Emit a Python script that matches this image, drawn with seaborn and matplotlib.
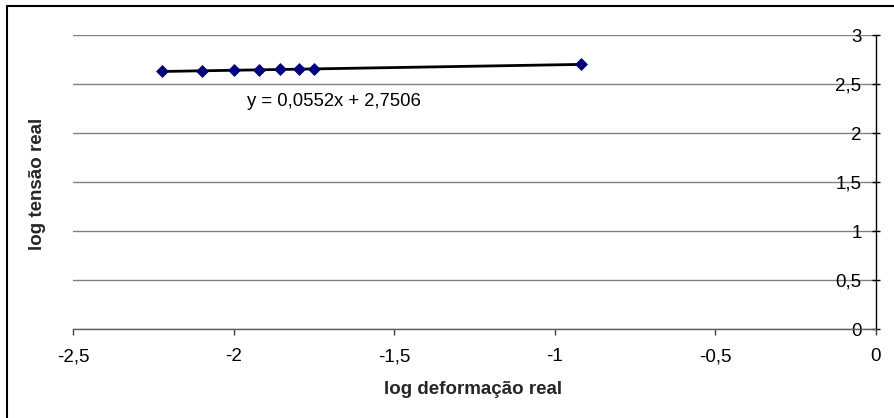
import matplotlib
matplotlib.use("Agg")
import matplotlib.pyplot as plt
import matplotlib.ticker as mticker
from matplotlib.lines import Line2D
import seaborn as sns
import pandas as pd
import numpy as np

# Measured points (log true strain vs log true stress)
log_deformacao = [-2.223, -2.098, -1.999, -1.921, -1.855, -1.796, -1.749, -0.919]
log_tensao = [2.628, 2.634, 2.640, 2.644, 2.648, 2.651, 2.654, 2.700]

# Linear trendline coefficients
trend_slope = 0.0552
trend_intercept = 2.7506

x_ticks = [-2.5, -2.0, -1.5, -1.0, -0.5, 0.0]
y_ticks = [0.0, 0.5, 1.0, 1.5, 2.0, 2.5, 3.0]

sns.set_theme(style="white")
plt.rcParams["font.family"] = ["Liberation Sans", "DejaVu Sans"]

W, H = 894, 418
fig = plt.figure(figsize=(W / 100, H / 100), dpi=100)
fig.patch.set_facecolor("white")

# Chart area frame: only its left and top edges fall inside the canvas
fx, fy = 7.3 / W, 1 - 6 / H
fig.lines.append(Line2D([fx, fx], [0, fy], transform=fig.transFigure,
                        color="black", linewidth=1.5))
fig.lines.append(Line2D([fx, 1], [fy, fy], transform=fig.transFigure,
                        color="black", linewidth=1.5))

left, right = 73.3 / W, 875.5 / W
bottom, top = 1 - 329 / H, 1 - 35 / H
ax = fig.add_axes([left, bottom, right - left, top - bottom])
ax.set_facecolor("none")

df = pd.DataFrame({"x": log_deformacao, "y": log_tensao})

# Trendline over the data range
xs = np.array([min(log_deformacao), max(log_deformacao)])
trend = pd.DataFrame({"x": xs, "y": trend_slope * xs + trend_intercept})
sns.lineplot(data=trend, x="x", y="y", ax=ax, color="black", linewidth=2.0,
             zorder=3)
sns.scatterplot(data=df, x="x", y="y", ax=ax, marker="D", s=36,
                color="#000080", edgecolor="#000080", linewidth=0.6, zorder=4)

ax.set_xlim(-2.5, 0)
ax.set_ylim(0, 3)
ax.set_xticks(x_ticks)
ax.set_yticks(y_ticks)

fmt = mticker.FuncFormatter(lambda v, p: f"{v:g}".replace(".", ","))
ax.xaxis.set_major_formatter(fmt)
ax.yaxis.set_major_formatter(fmt)

# Horizontal gridlines
ax.yaxis.grid(True, color="#808080", linewidth=1.0)
ax.xaxis.grid(False)
ax.set_axisbelow(True)

for side in ("left", "top"):
    ax.spines[side].set_visible(False)
ax.spines["right"].set_visible(True)
ax.spines["right"].set_color("black")
ax.spines["right"].set_linewidth(1.0)
ax.spines["bottom"].set_color("#606060")
ax.spines["bottom"].set_linewidth(1.0)

ax.xaxis.set_ticks_position("bottom")
ax.tick_params(axis="x", direction="out", length=4, width=1, color="#404040",
               pad=10, labelsize=13.5, labelcolor="black")
ax.yaxis.set_ticks_position("right")
ax.tick_params(axis="y", direction="inout", length=6, width=1, color="black",
               pad=-13, labelsize=13.5, labelcolor="black",
               labelright=True, labelleft=False)
for lbl in ax.get_yticklabels():
    lbl.set_horizontalalignment("right")

ax.set_xlabel("")
ax.set_ylabel("")
fig.text(473 / W, 1 - 389 / H, "log deformação real", ha="center",
         va="center", fontsize=13.5, fontweight="bold")
fig.text(37 / W, 1 - 184 / H, "log tensão real", ha="center", va="center",
         rotation=90, fontsize=13.5, fontweight="bold")

ax.text(-1.960, 2.317, f"y = {trend_slope:.4f}x + {trend_intercept:.4f}".replace(".", ","),
        ha="left", va="center", fontsize=13.3, color="black")

fig.savefig("out.png", dpi=100)
